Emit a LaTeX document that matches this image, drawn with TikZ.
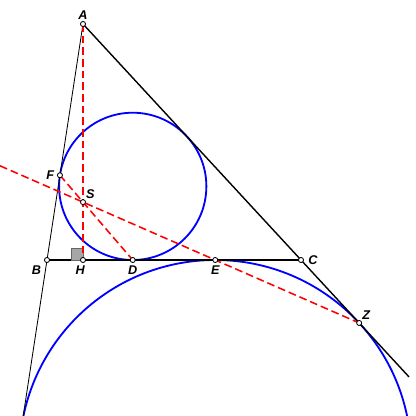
\documentclass[tikz,border=0pt]{standalone}
\usepackage{fontspec}
\setmainfont{Liberation Sans}
\usetikzlibrary{positioning}

\begin{document}
\begin{tikzpicture}[
    x=0.025cm, y=0.025cm,
    side/.style={draw=black, line width=1pt},
    thinside/.style={draw=black, line width=0.6pt},
    base/.style={draw=black, line width=1.3pt},
    circ/.style={draw=blue, line width=1.3pt},
    aux/.style={draw=red, line width=1.1pt, dash pattern=on 5.5pt off 2.8pt},
    pt/.style={circle, draw=black, fill=white, inner sep=0pt, minimum size=3.6pt, line width=0.6pt},
    lbl/.style={inner sep=1pt, font=\fontsize{9}{10}\selectfont\bfseries\itshape},
    rightang/.style={draw=gray!80!black, fill=gray!70, line width=0.4pt}
]
\useasboundingbox (0,0) rectangle (416,416);
\clip (0,0) rectangle (416,416);

% Points
\coordinate (A) at (83,392);
\coordinate (B) at (47,156);
\coordinate (C) at (301,156);
\coordinate (H) at (83,156);
\coordinate (D) at (132.73,156);
\coordinate (E) at (215.27,156);
\coordinate (F) at (59.93,240.75);
\coordinate (S) at (83,213.88);
\coordinate (Z) at (359.17,93.03);
\coordinate (I) at (132.73,229.64);
\coordinate (Ia) at (215.27,-39.89);
\coordinate (ABend) at (23.2,0);
\coordinate (ACend) at (409,39.1);
\coordinate (SZstart) at (0,250.2);

% Circles
\draw[circ] (I) circle[radius=73.64];
\draw[circ] (Ia) circle[radius=195.89];

% Triangle sides
\draw[thinside] (A) -- (ABend);
\draw[side] (A) -- (ACend);
\draw[base] (B) -- (C);

% Right angle at H
\filldraw[rightang] (H) rectangle ++(-12,12);

% Dashed lines
\draw[aux] (A) -- (H);
\draw[aux] (F) -- (D);
\draw[aux] (SZstart) -- (Z);

% Point markers
\foreach \p in {A,B,C,H,D,E,F,S,Z}
    \node[pt] (\p-dot) at (\p) {};

% Labels
\node[lbl, above=2pt of A] (lA) {A};
\node[lbl, below left=3pt and 3pt of B] (lB) {B};
\node[lbl, below=3pt of H, xshift=-2pt] (lH) {H};
\node[lbl, below=3pt of D] (lD) {D};
\node[lbl, below=3pt of E] (lE) {E};
\node[lbl, right=4pt of C] (lC) {C};
\node[lbl, above right=1pt and 1pt of Z] (lZ) {Z};
\node[lbl, left=3pt of F] (lF) {F};
\node[lbl, above right=1pt and 1pt of S] (lS) {S};

\end{tikzpicture}
\end{document}
